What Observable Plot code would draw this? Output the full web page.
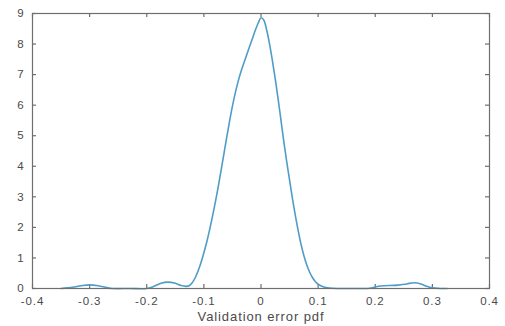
<!DOCTYPE html>
<html>
<head>
<meta charset="utf-8">
<script src="https://cdn.jsdelivr.net/npm/d3@7"></script>
<script src="https://cdn.jsdelivr.net/npm/@observablehq/plot@0.6"></script>
<style>
  html, body { margin: 0; padding: 0; background: #fff; }
  #chart svg { display: block; }
  #chart svg text { letter-spacing: 0.9px; }
</style>
</head>
<body>
<div id="chart"></div>
<script>
const errorX = [
  -0.350, -0.330, -0.315, -0.300, -0.285, -0.270, -0.260, -0.230, -0.200, -0.190,
  -0.175, -0.163, -0.150, -0.140, -0.132,
  -0.125, -0.120, -0.115, -0.110, -0.105, -0.100, -0.095, -0.090, -0.085, -0.080,
  -0.075, -0.070, -0.065, -0.060, -0.055, -0.050, -0.045, -0.040, -0.035, -0.030,
  -0.025, -0.020, -0.015, -0.010, -0.005, 0.000,
  0.005, 0.010, 0.015, 0.020, 0.025, 0.030, 0.035, 0.040, 0.045, 0.050,
  0.055, 0.060, 0.065, 0.070, 0.075, 0.080, 0.085, 0.090, 0.095, 0.100,
  0.110, 0.120, 0.133, 0.160, 0.190,
  0.200, 0.210, 0.225, 0.240, 0.255, 0.268, 0.280, 0.290, 0.300, 0.315, 0.326
];
const pdfY = [
  0.00, 0.04, 0.09, 0.12, 0.09, 0.03, 0.00, 0.00, 0.00, 0.05,
  0.17, 0.21, 0.17, 0.10, 0.07,
  0.10, 0.20, 0.36, 0.58, 0.85, 1.17, 1.52, 1.92, 2.35, 2.82,
  3.32, 3.85, 4.40, 4.95, 5.48, 5.97, 6.40, 6.78, 7.10, 7.38,
  7.65, 7.92, 8.18, 8.45, 8.68, 8.86,
  8.78, 8.45, 8.00, 7.45, 6.85, 6.20, 5.50, 4.80, 4.15, 3.55,
  2.95, 2.40, 1.90, 1.45, 1.08, 0.78, 0.54, 0.36, 0.23, 0.14,
  0.05, 0.015, 0.00, 0.00, 0.01,
  0.05, 0.08, 0.10, 0.11, 0.15, 0.19, 0.15, 0.07, 0.02, 0.00, 0.00
];
const xTicks = [-0.4, -0.3, -0.2, -0.1, 0, 0.1, 0.2, 0.3, 0.4];
const yTicks = [0, 1, 2, 3, 4, 5, 6, 7, 8, 9];
const xTitle = "Validation error pdf";

const W = 505, H = 326;
const mL = 32, mR = 16, mT = 13, mB = 38;
const frameW = W - mL - mR, frameH = H - mT - mB;
const tickLen = 4;

const data = errorX.map((x, i) => ({x, y: pdfY[i]}));
const fmt = d => d === 0 ? "0" : String(d);
const tickColor = "#6e6e6e";
const labelColor = "#4a4a4a";

const chart = Plot.plot({
  width: W,
  height: H,
  marginLeft: mL,
  marginRight: mR,
  marginTop: mT,
  marginBottom: mB,
  style: {fontFamily: "Liberation Sans, Arial, sans-serif", fontSize: "11px", background: "#fff"},
  x: {domain: [-0.4, 0.4], ticks: xTicks},
  y: {domain: [0, 9], ticks: yTicks},
  marks: [
    // inward ticks on all four sides
    Plot.tickX(xTicks, {x: d => d, insetTop: frameH - tickLen, stroke: tickColor, strokeWidth: 1.2}),
    Plot.tickX(xTicks, {x: d => d, insetBottom: frameH - tickLen, stroke: tickColor, strokeWidth: 1.2}),
    Plot.tickY(yTicks, {y: d => d, insetRight: frameW - tickLen, stroke: tickColor, strokeWidth: 1.2}),
    Plot.tickY(yTicks, {y: d => d, insetLeft: frameW - tickLen, stroke: tickColor, strokeWidth: 1.2}),
    Plot.line(data, {x: "x", y: "y", stroke: "#4f9dc7", strokeWidth: 1.6, curve: "catmull-rom"}),
    Plot.frame({stroke: tickColor, strokeWidth: 1.2}),
    // tick labels
    Plot.axisX(xTicks, {anchor: "bottom", tickSize: 0, tickPadding: 8, tickFormat: fmt, fill: labelColor, label: null, fontSize: 11.5}),
    Plot.axisY(yTicks, {anchor: "left", tickSize: 0, tickPadding: 8, tickFormat: fmt, fill: labelColor, label: null, fontSize: 11.5}),
    Plot.text([xTitle], {frameAnchor: "bottom", lineAnchor: "middle", dy: 28, text: d => d, fill: labelColor, fontSize: 13})
  ]
});
document.getElementById("chart").appendChild(chart);
</script>
</body>
</html>
